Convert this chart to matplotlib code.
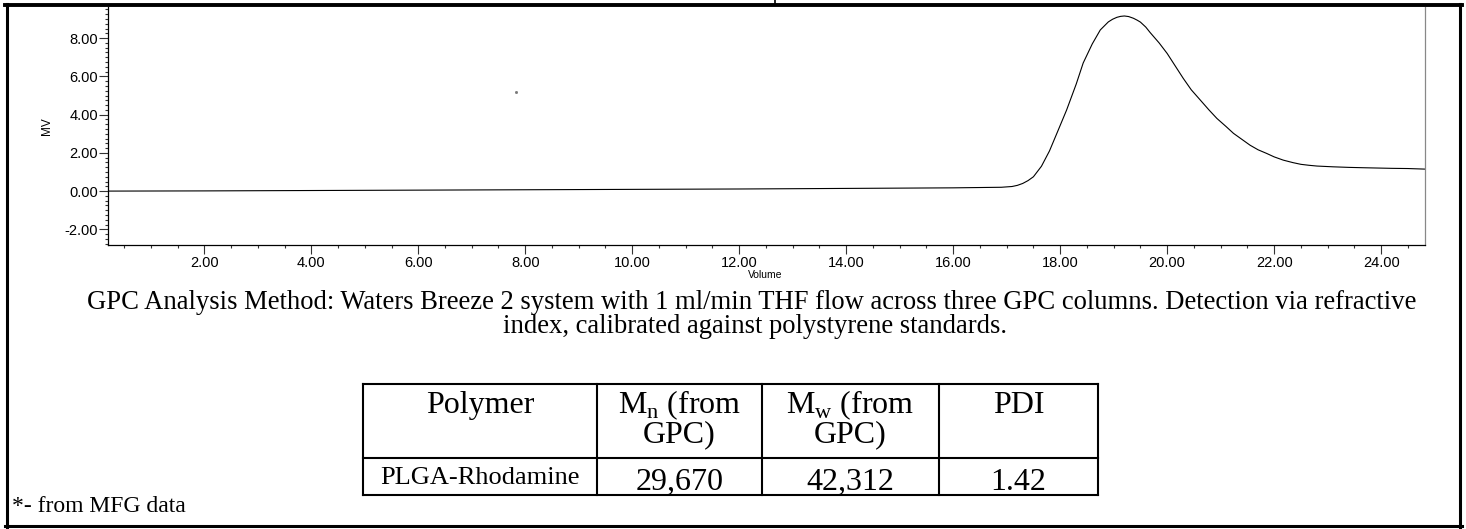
import matplotlib
matplotlib.use("Agg")
import matplotlib.pyplot as plt
from matplotlib.lines import Line2D
from matplotlib.ticker import MultipleLocator, FormatStrFormatter

plt.rcParams["mathtext.fontset"] = "custom"
plt.rcParams["mathtext.rm"] = "Liberation Serif"

# chromatogram
volume = [0.2, 2.0, 4.0, 6.0, 8.0, 10.0, 12.0, 14.0, 16.0, 16.6, 16.9, 17.1, 17.2,
          17.3, 17.4, 17.5, 17.65, 17.8, 17.95, 18.12, 18.3, 18.43, 18.6, 18.75,
          18.9, 18.98, 19.06, 19.13, 19.2, 19.28, 19.37, 19.44, 19.5, 19.6, 19.68,
          19.85, 20.0, 20.15, 20.3, 20.45, 20.62, 20.78, 20.93, 21.1, 21.24, 21.4,
          21.55, 21.7, 21.86, 22.0, 22.17, 22.35, 22.5, 22.65, 22.8, 23.1, 23.4,
          23.7, 24.2, 24.5, 24.82]
mv = [0.0, 0.01, 0.03, 0.05, 0.07, 0.09, 0.11, 0.14, 0.17, 0.19, 0.2, 0.24, 0.3,
      0.4, 0.55, 0.75, 1.3, 2.1, 3.1, 4.24, 5.6, 6.7, 7.7, 8.43,
      8.85, 8.99, 9.09, 9.14, 9.16, 9.13, 9.04, 8.94, 8.84, 8.58, 8.3,
      7.75, 7.2, 6.55, 5.9, 5.3, 4.76, 4.25, 3.8, 3.38, 3.02, 2.7,
      2.4, 2.16, 1.97, 1.79, 1.62, 1.49, 1.4, 1.35, 1.31, 1.27, 1.24,
      1.22, 1.19, 1.18, 1.15]
stray_x = [7.83]
stray_y = [5.2]

caption = ["GPC Analysis Method: Waters Breeze 2 system with 1 ml/min THF flow across three GPC columns. Detection via refractive",
           "index, calibrated against polystyrene standards."]
headers = [["Polymer"], [r"M$_\mathrm{n}$ (from", "GPC)"], [r"M$_\mathrm{w}$ (from", "GPC)"], ["PDI"]]
row = ["PLGA-Rhodamine", "29,670", "42,312", "1.42"]
footnote = "*- from MFG data"

W, H = 1466, 529
fig = plt.figure(figsize=(W / 100, H / 100), dpi=100)


def fx(px):
    return px / W


def fy(py):
    return 1 - py / H


ax = fig.add_axes([fx(108), fy(245), fx(1425) - fx(108), fy(7) - fy(245)])
ax.plot(volume, mv, color="black", lw=0.8)
ax.plot(stray_x, stray_y, marker="s", ms=1.0, color="#777777", ls="none")
ax.set_xlim(0.2, 24.82)
ax.set_ylim(-2.82, 9.63)
ax.xaxis.set_major_locator(MultipleLocator(2))
ax.xaxis.set_minor_locator(MultipleLocator(0.5))
ax.yaxis.set_major_locator(MultipleLocator(2))
ax.yaxis.set_minor_locator(MultipleLocator(0.25))
ax.xaxis.set_major_formatter(FormatStrFormatter("%.2f"))
ax.yaxis.set_major_formatter(FormatStrFormatter("%.2f"))
for lab in ax.get_xticklabels() + ax.get_yticklabels():
    lab.set_fontfamily("Liberation Sans")
ax.tick_params(which="major", length=6.5, width=0.8, labelsize=10.5, pad=1.5, color="#333333")
ax.tick_params(which="minor", length=2.5, width=0.8, color="#333333")
ax.tick_params(axis="y", which="major", pad=0.5)
ax.spines["top"].set_visible(False)
ax.spines["right"].set_color("#888888")
for s in ["left", "bottom", "right"]:
    ax.spines[s].set_linewidth(0.9)

ax.set_xlabel("Volume", fontsize=7.5, family="Liberation Sans")
ax.xaxis.set_label_coords(0.499, -0.105)
ax.set_ylabel("MV", fontsize=8.5, family="Liberation Sans")
ax.yaxis.set_label_coords(-0.0418, 0.5)

# caption text
fig.text(fx(752), fy(309), caption[0], ha="center", va="baseline", fontsize=19.2, family="Liberation Serif")
fig.text(fx(755), fy(333), caption[1], ha="center", va="baseline", fontsize=19.2, family="Liberation Serif")

# table
cols = [363, 597, 762, 939, 1098]
top, mid, bot = 384, 458, 495


def hline(y, x0, x1, lw):
    fig.add_artist(Line2D([fx(x0), fx(x1)], [fy(y), fy(y)], color="black", lw=lw, transform=fig.transFigure))


def vline(x, y0, y1, lw):
    fig.add_artist(Line2D([fx(x), fx(x)], [fy(y0), fy(y1)], color="black", lw=lw, transform=fig.transFigure))


hline(top, cols[0], cols[-1], 1.5)
hline(mid, cols[0], cols[-1], 1.5)
hline(bot, cols[0], cols[-1], 1.5)
for c in cols:
    vline(c, top, bot, 1.5)

for i, lines in enumerate(headers):
    cx = (cols[i] + cols[i + 1]) / 2
    for j, t in enumerate(lines):
        fig.text(fx(cx), fy(413 + 29 * j), t, ha="center", va="baseline", fontsize=23, family="Liberation Serif")
for i, t in enumerate(row):
    cx = (cols[i] + cols[i + 1]) / 2
    size = 19 if i == 0 else 23
    base = 484 if i == 0 else 490
    fig.text(fx(cx), fy(base), t, ha="center", va="baseline", fontsize=size, family="Liberation Serif")

fig.text(fx(12), fy(512), footnote, ha="left", va="baseline", fontsize=17, family="Liberation Serif")

# page borders
hline(5, 5, 1462, 2.8)
vline(6.5, 4, 527, 2.2)
vline(1460, 4, 527, 2.2)
hline(525.5, 5, 1462, 2.2)
vline(775, 0, 5, 1.2)

fig.savefig("out.png", dpi=100)
